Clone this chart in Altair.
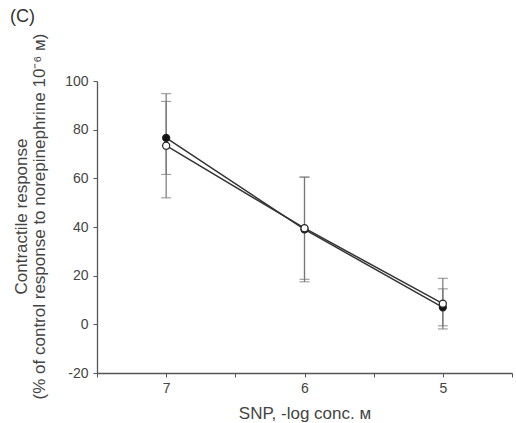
import altair as alt
import pandas as pd

# SNP concentration (-log M)
conc = [7, 6, 5]

# Contractile response, % of control (mean and error)
filled_mean = [76.6, 39.0, 7.0]
filled_err = [15.0, 21.5, 7.6]
open_mean = [73.4, 39.5, 8.5]
open_err = [21.4, 21.0, 10.4]

series_names = ["filled", "open"]

rows = []
for name, means, errs in [("filled", filled_mean, filled_err), ("open", open_mean, open_err)]:
    for c, m, e in zip(conc, means, errs):
        rows.append({"conc": c, "series": name, "mean": m, "lo": m - e, "hi": m + e})
df = pd.DataFrame(rows)

FONT = "Liberation Sans"
TXT = "#444444"
AX = "#555555"

x_enc = alt.X(
    "conc:Q",
    scale=alt.Scale(domain=[4.5, 7.5], reverse=True, nice=False, zero=False),
    axis=alt.Axis(
        title="SNP, -log conc. ᴍ",
        values=[7.5, 7, 6.5, 6, 5.5, 5, 4.5],
        labelExpr="datum.value % 1 == 0 ? format(datum.value, 'd') : ''",
        grid=False,
        tickSize=4,
        labelPadding=4,
        titlePadding=10,
    ),
)
y_scale = alt.Scale(domain=[-20, 100], nice=False, zero=False)
y_axis = alt.Axis(
    title=["Contractile response", "(% of control response to norepinephrine 10⁻⁶ ᴍ)"],
    values=[-20, 0, 20, 40, 60, 80, 100],
    labelExpr="replace(format(datum.value, 'd'), '−', '-')",
    grid=False,
    tickSize=4,
    labelPadding=5,
    titlePadding=16,
    titleLineHeight=18,
    titleY=135,
)

base = alt.Chart(df)

bars = base.mark_errorbar(ticks=alt.MarkConfig(size=10), color="#777777", thickness=1.2).encode(
    x=x_enc,
    y=alt.Y("lo:Q", scale=y_scale, axis=y_axis),
    y2="hi:Q",
    detail="series:N",
)

lines = base.mark_line(strokeWidth=1.5, color="#333333").encode(
    x=x_enc,
    y=alt.Y("mean:Q", scale=y_scale, axis=y_axis),
    detail="series:N",
)

pts = base.mark_point(filled=True, size=50, strokeWidth=1.2, stroke="#222222", opacity=1).encode(
    x=x_enc,
    y=alt.Y("mean:Q", scale=y_scale, axis=y_axis),
    fill=alt.Fill("series:N", scale=alt.Scale(domain=series_names, range=["#111111", "#ffffff"]), legend=None),
    order=alt.Order("series:N"),
)

panel_label = alt.Chart(pd.DataFrame({"t": ["(C)"]})).mark_text(
    align="left", baseline="middle", font=FONT, fontSize=18, color="#333333"
).encode(x=alt.value(-87), y=alt.value(-64), text="t:N")

chart = (
    alt.layer(bars, lines, pts, panel_label)
    .properties(
        width=415,
        height=292,
        autosize=alt.AutoSizeParams(type="none"),
        padding={"left": 97, "top": 81, "right": 4, "bottom": 50},
        background="white",
    )
    .configure_view(stroke=None)
    .configure_axis(
        labelFont=FONT,
        titleFont=FONT,
        labelFontSize=14,
        titleFontSize=17,
        titleFontWeight="normal",
        labelColor=TXT,
        titleColor=TXT,
        domainColor=AX,
        tickColor=AX,
        domainWidth=1.3,
    )
)

chart.save("out.html", embed_options={"renderer": "svg", "actions": False})
